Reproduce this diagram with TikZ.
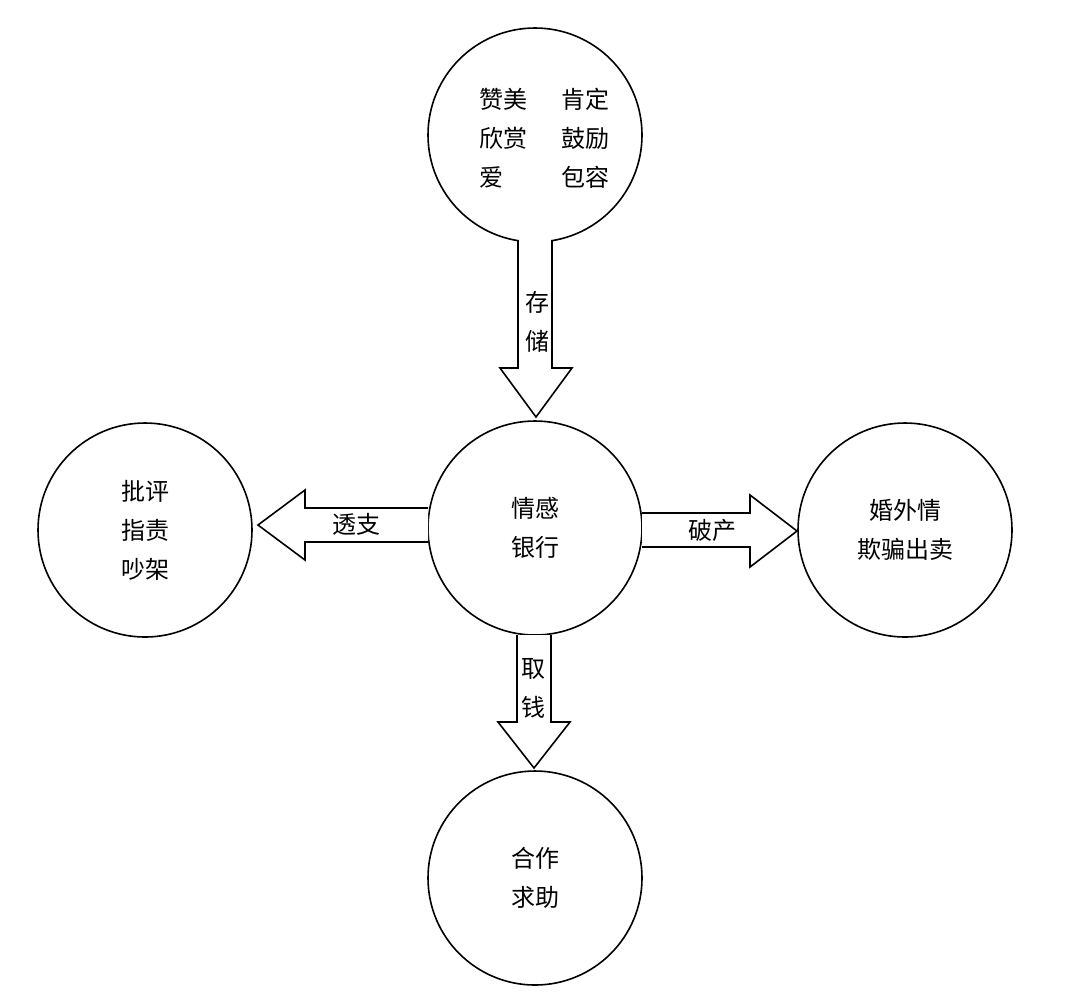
\documentclass[tikz,border=0pt]{standalone}
\usepackage{fontspec}
\setmainfont{Noto Sans CJK SC}
\begin{document}
\begin{tikzpicture}[x=0.5pt,y=-0.5pt,
  circ/.style={draw,thick,circle,minimum size=107pt,inner sep=0pt},
  txt/.style={font=\fontsize{12}{19.5}\selectfont,align=center},
  arr/.style={draw,thick,fill=white,line join=miter}]
\useasboundingbox (0,0) rectangle (1080,993);
\node[circ] (top) at (535,135) {};
\node[circ] (mid) at (535,528) {};
\node[circ] (lft) at (145,530) {};
\node[circ] (rgt) at (905,530) {};
\node[circ] (bot) at (535,878) {};
\node[txt] at (503,138) {赞美\\欣赏\\爱\phantom{赏}};
\node[txt] at (585,138) {肯定\\鼓励\\包容};
\node[txt] at (mid) {情感\\银行};
\node[txt] at (lft) {批评\\指责\\吵架};
\node[txt] at (rgt) {婚外情\\欺骗出卖};
\node[txt] at (bot) {合作\\求助};
% arrows
\draw[arr] (518,240)--(518,368)--(500,368)--(536,417)--(572,368)--(552,368)--(552,240);
\draw[arr] (428,508)--(305,508)--(305,490)--(258,525)--(305,560)--(305,542)--(428,542);
\draw[arr] (642,513)--(750,513)--(750,495)--(797,531)--(750,567)--(750,547)--(642,547);
\draw[arr] (517,635)--(517,722)--(498,722)--(534,768)--(570,722)--(551,722)--(551,635);
\node[txt] at (537,322) {存\\储};
\node[txt] at (356,524) {透支};
\node[txt] at (712,530) {破产};
\node[txt] at (533,688) {取\\钱};
\end{tikzpicture}
\end{document}
